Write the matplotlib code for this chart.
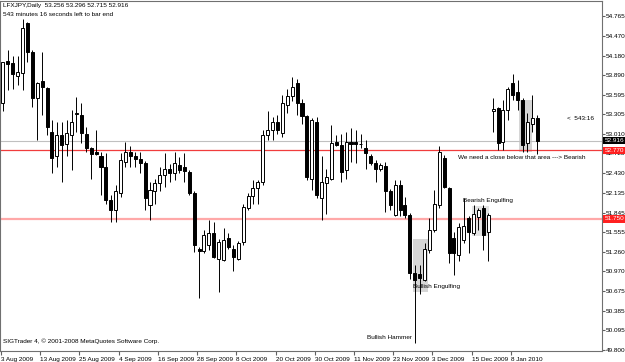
import numpy as np
import matplotlib
matplotlib.use('Agg')
import matplotlib.pyplot as plt
import matplotlib.transforms as mtransforms

plt.rcParams['font.family'] = ['Liberation Sans', 'DejaVu Sans']

# LFXJPY daily, one bar per trading day (3 Aug 2009 .. Jan 2010)
opens = [53.47, 54.10, 54.07, 53.88, 53.92, 54.66, 54.24, 53.55, 53.81, 53.70,
         53.05, 52.68, 53.00, 52.87, 53.00, 53.31, 53.29, 53.02, 52.80, 52.74,
         52.68, 52.53, 52.03, 51.88, 52.13, 52.60, 52.75, 52.68, 52.64, 52.59,
         51.96, 52.17, 52.28, 52.40, 52.50, 52.43, 52.55, 52.53, 52.45, 52.13,
         51.31, 51.27, 51.36, 51.54, 51.16, 51.14, 51.46, 51.31, 51.16, 51.41,
         51.92, 52.09, 52.21, 52.30, 53.00, 53.07, 53.20, 53.03, 53.44, 53.58,
         53.77, 53.48, 53.28, 52.35, 53.20, 52.06, 52.28, 52.35, 52.90, 52.85,
         52.48, 52.90, 52.89, 52.86, 52.80, 52.68, 52.59, 52.49, 52.54, 52.16,
         51.81, 52.26, 51.96, 51.81, 50.94, 50.93, 50.84, 51.29, 51.58, 51.96,
         52.65, 52.21, 51.46, 51.21, 51.44, 51.76, 51.54, 51.78, 51.91, 51.56,
         53.36, 53.40, 52.90, 53.37, 53.77, 53.64, 53.52, 52.88, 53.17, 53.256]
highs = [54.09, 54.26, 54.17, 54.17, 54.72, 54.68, 54.27, 53.79, 54.24, 53.71,
         53.22, 53.19, 53.19, 53.22, 53.37, 53.57, 53.47, 53.12, 52.82, 53.07,
         52.75, 52.73, 52.10, 52.26, 52.73, 52.90, 52.83, 52.75, 52.75, 52.61,
         52.30, 52.35, 52.53, 52.73, 52.57, 52.75, 52.67, 52.73, 52.48, 52.16,
         51.33, 51.58, 51.73, 51.71, 51.45, 51.61, 51.54, 51.36, 51.42, 51.98,
         52.14, 52.33, 52.33, 53.07, 53.35, 53.27, 53.30, 53.59, 53.69, 53.86,
         53.83, 53.53, 53.30, 53.25, 53.27, 52.68, 52.50, 53.15, 53.00, 53.02,
         53.05, 53.10, 53.08, 53.02, 52.92, 52.72, 52.63, 52.58, 52.60, 52.20,
         52.33, 52.33, 52.07, 51.84, 51.07, 51.07, 51.39, 51.76, 52.18, 52.83,
         52.70, 52.23, 51.56, 51.69, 52.06, 51.80, 51.96, 51.91, 51.96, 51.84,
         53.55, 53.42, 53.52, 53.72, 53.91, 53.82, 53.55, 53.32, 53.59, 53.296]
lows = [53.35, 53.67, 53.69, 53.74, 53.67, 54.09, 53.42, 52.92, 53.30, 53.00,
        52.43, 52.53, 52.30, 52.68, 52.48, 53.05, 52.88, 52.75, 52.35, 52.70,
        52.11, 51.98, 51.71, 51.71, 52.08, 52.53, 52.53, 52.53, 52.44, 51.88,
        51.73, 51.98, 52.16, 52.23, 52.30, 52.33, 52.43, 52.30, 52.11, 51.26,
        50.57, 51.25, 51.29, 51.17, 50.67, 51.12, 51.30, 50.97, 51.14, 51.36,
        51.89, 51.98, 51.98, 52.26, 52.92, 52.92, 53.02, 52.97, 53.32, 53.50,
        53.30, 53.16, 52.33, 52.18, 52.06, 51.73, 51.83, 52.33, 52.84, 52.30,
        52.35, 52.60, 52.58, 52.81, 52.50, 52.56, 52.30, 52.47, 51.86, 51.88,
        51.79, 51.79, 51.77, 50.85, 49.90, 50.64, 50.82, 51.24, 51.56, 51.91,
        52.21, 51.10, 50.92, 51.12, 51.39, 51.24, 51.51, 51.58, 51.29, 51.12,
        53.05, 52.78, 52.78, 53.22, 53.52, 53.37, 52.75, 52.75, 53.05, 52.715]
closes = [54.08, 54.05, 53.91, 53.94, 54.59, 54.24, 53.55, 53.77, 53.72, 53.12,
          52.65, 53.00, 52.85, 53.03, 53.20, 53.33, 53.03, 52.80, 52.72, 52.72,
          52.53, 52.03, 51.88, 52.16, 52.63, 52.75, 52.68, 52.64, 52.59, 52.06,
          52.18, 52.28, 52.40, 52.50, 52.43, 52.58, 52.48, 52.46, 52.13, 51.36,
          51.27, 51.51, 51.54, 51.19, 51.40, 51.44, 51.33, 51.19, 51.39, 51.93,
          52.09, 52.21, 52.30, 53.00, 53.07, 53.20, 53.07, 53.47, 53.58, 53.71,
          53.47, 53.28, 52.38, 53.22, 52.11, 52.30, 52.38, 52.88, 52.85, 52.45,
          52.90, 52.87, 52.86, 52.87, 52.73, 52.58, 52.49, 52.55, 52.16, 51.96,
          52.26, 51.88, 51.81, 50.95, 50.84, 50.87, 51.31, 51.58, 51.98, 52.75,
          52.23, 51.24, 51.24, 51.63, 51.64, 51.56, 51.83, 51.89, 51.51, 51.81,
          53.38, 52.88, 53.37, 53.69, 53.60, 53.52, 52.85, 53.20, 53.25, 52.916]

date_bars = [0, 8, 16, 24, 32, 40, 48, 56, 64, 72, 80, 88, 96, 104]
date_labels = ['3 Aug 2009', '13 Aug 2009', '25 Aug 2009', '4 Sep 2009', '16 Sep 2009',
               '28 Sep 2009', '8 Oct 2009', '20 Oct 2009', '30 Oct 2009', '11 Nov 2009',
               '23 Nov 2009', '3 Dec 2009', '15 Dec 2009', '8 Jan 2010']
price_ticks = [54.765, 54.470, 54.180, 53.890, 53.595, 53.305, 53.010, 52.725,
               52.430, 52.135, 51.845, 51.555, 51.260, 50.970, 50.675, 50.385,
               50.095, 49.800]

bid = 52.916
resistance = 52.770
support = 51.750

# shaded pattern zones: hammer/engulfing, bearish engulfing, recent top
zone_start = [83.7, 95.7, 105.2]
zone_end = [86.7, 99.2, 107.9]
zone_low = [50.67, 51.50, 52.75]
zone_high = [51.45, 51.94, 53.52]
zone_color = ['#d6d6d6', '#e4e4e4', '#d6d6d6']

fs = 4.6

fig = plt.figure(figsize=(6.25, 3.62), dpi=100)
ax = fig.add_axes([0, 11 / 362, 602 / 625, 350 / 362])

for i in range(len(zone_start)):
    ax.fill_between([zone_start[i], zone_end[i]], zone_low[i], zone_high[i],
                    color=zone_color[i], lw=0, zorder=0)

ax.axhline(bid, color='#c0c0c0', lw=0.8, zorder=1)
ax.axhline(resistance, color='#f03c3c', lw=0.9, zorder=1)
ax.axhline(support, color='#ffa8a8', lw=1.6, zorder=1)

x = np.arange(len(opens))
o = np.array(opens)
c = np.array(closes)
up = c >= o
ax.vlines(x, lows, highs, color='black', lw=0.7, zorder=2)
body_bottom = np.minimum(o, c)
body_h = np.maximum(np.abs(c - o), 0.012)
ax.bar(x, body_h, bottom=body_bottom, width=0.62,
       color=np.where(up, 'white', 'black'), edgecolor='black', lw=0.7, zorder=3)

ax.set_xlim(-0.6, 122.2)
ax.set_ylim(49.785, 54.994)

ax.set_xticks([b - 0.4 for b in date_bars])
ax.set_xticklabels(date_labels)
for lab in ax.get_xticklabels():
    lab.set_ha('left')
ax.tick_params(axis='x', length=3, pad=1, labelsize=fs, color='#606060')

ax.yaxis.tick_right()
ax.set_yticks(price_ticks)
ax.set_yticklabels(['%.3f' % v for v in price_ticks])
ax.tick_params(axis='y', length=2, pad=1, labelsize=fs, color='#606060')
for s in ax.spines.values():
    s.set_color('#707070')
    s.set_linewidth(0.8)

# boxes on the price scale
tr = mtransforms.blended_transform_factory(ax.transAxes, ax.transData)
ax.text(1.004, bid, '%.3f' % bid, transform=tr, fontsize=fs, color='white',
        va='center', ha='left', zorder=5,
        bbox=dict(boxstyle='square,pad=0.2', fc='black', ec='none'))
for lvl in [resistance, support]:
    ax.text(1.004, lvl, '%.3f' % lvl, transform=tr, fontsize=fs, color='white',
            va='center', ha='left', zorder=5,
            bbox=dict(boxstyle='square,pad=0.2', fc='#ff2020', ec='none'))

# annotations
ax.text(92.9, 52.66, 'We need a close below that area ---> Bearish', fontsize=fs,
        va='center', ha='left')
ax.text(93.9, 52.02, 'Bearish Engulfing', fontsize=fs, va='center', ha='left')
ax.text(83.7, 50.74, 'Bullish Engulfing', fontsize=fs, va='center', ha='left')
ax.text(74.3, 49.99, 'Bullish Hammer', fontsize=fs, va='center', ha='left')
ax.text(115.1, 53.25, '<  543:16', fontsize=fs, va='center', ha='left')

fig.text(3 / 625, 1 - 6 / 362, 'LFXJPY,Daily  53.256 53.296 52.715 52.916',
         fontsize=fs, va='center', ha='left')
fig.text(3 / 625, 1 - 14 / 362, '543 minutes 16 seconds left to bar end',
         fontsize=fs, va='center', ha='left')
fig.text(3 / 625, 1 - 341 / 362, 'SIGTrader 4, \u00a9 2001-2008 MetaQuotes Software Corp.',
         fontsize=fs, va='center', ha='left')

fig.savefig('out.png', dpi=100)
